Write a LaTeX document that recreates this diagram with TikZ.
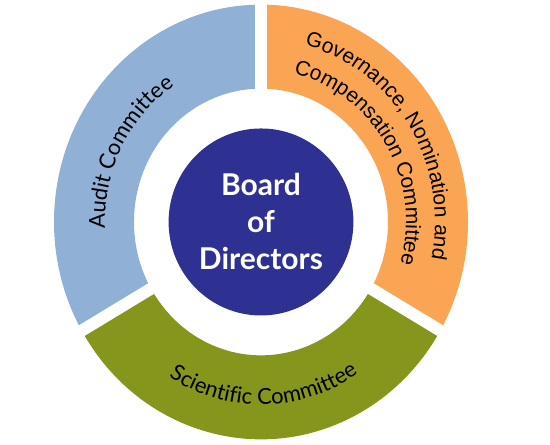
\documentclass[tikz,border=0pt]{standalone}
\usepackage{fontspec}
\setmainfont{Lato}
\newfontfamily\govfont{Liberation Sans}
\usepackage{tikz}
\usetikzlibrary{shapes.geometric, decorations.text}
\definecolor{auditblue}{HTML}{90B0D5}
\definecolor{govorange}{HTML}{F9A553}
\definecolor{scigreen}{HTML}{86951C}
\definecolor{boardnavy}{HTML}{2E3192}
\tikzstyle{gap}=[
  white,
  line width=12pt
]
\tikzstyle{board}=[
  ellipse,
  minimum width=178pt,
  minimum height=187pt,
  fill=boardnavy,
  text=white,
  align=center,
  font={\bfseries\fontsize{30}{37}\selectfont}
]

\begin{document}
\begin{tikzpicture}[x=1pt, y=1.05pt]

\newcommand\ROUT{207}
\newcommand\RIN{127}

\useasboundingbox (-261,-212.4) rectangle (289,211.4); %% margins

%% ring sectors
\fill[auditblue] (90:\ROUT) arc[start angle=90, end angle=210, radius=\ROUT]
  -- (210:\RIN) arc[start angle=210, end angle=90, radius=\RIN] -- cycle;
\fill[govorange] (-30:\ROUT) arc[start angle=-30, end angle=90, radius=\ROUT]
  -- (90:\RIN) arc[start angle=90, end angle=-30, radius=\RIN] -- cycle;
\fill[scigreen] (210:\ROUT) arc[start angle=210, end angle=330, radius=\ROUT]
  -- (330:\RIN) arc[start angle=330, end angle=210, radius=\RIN] -- cycle;

%% gaps
\draw[gap] (0,0) -- (90:230);
\draw[gap] (0,0) -- (210:230);
\draw[gap] (0,0) -- (330:230);

\node[board] (board) at (0,0) {Board\\of\\Directors};

%% labels on the ring
\path[decorate, decoration={text along path, text align=center,
  text={|\fontsize{22}{26}\selectfont|Audit Committee}}]
  (183:156) arc[start angle=183, end angle=123, radius=156];
\path[decorate, decoration={text along path, text align=center,
  text={|\govfont\fontsize{21}{25}\selectfont|Governance, Nomination and}}]
  (79:174) arc[start angle=79, end angle=-15, radius=174];
\path[decorate, decoration={text along path, text align=center,
  text={|\govfont\fontsize{21}{25}\selectfont|Compensation Committee}}]
  (76:145) arc[start angle=76, end angle=-15, radius=145];
\path[decorate, decoration={text along path, text align=center,
  text={|\fontsize{22}{26}\selectfont|Scientific Committee}}]
  (237:174) arc[start angle=237, end angle=305, radius=174];

\end{tikzpicture}
\end{document}
